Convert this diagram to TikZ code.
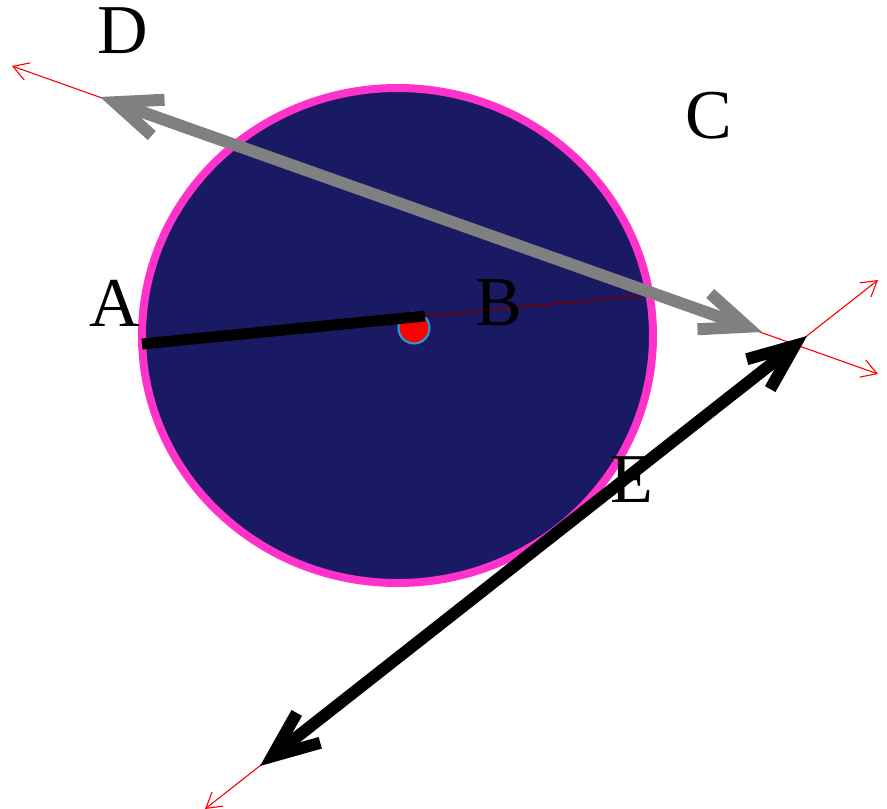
\documentclass[tikz,border=0pt]{standalone}
\usepackage{fontspec}
\setmainfont{Liberation Serif}
\newfontfamily\labelfont{Liberation Serif}
\usetikzlibrary{arrows.meta}
\definecolor{ringpink}{RGB}{255,51,204}
\definecolor{discblue}{RGB}{25,25,100}
\definecolor{dotcyan}{RGB}{30,160,230}
\definecolor{chordred}{RGB}{110,0,0}

\begin{document}
\begin{tikzpicture}[x=1pt, y=-1pt,
    guide/.style={red, line width=1.1pt,
      {Straight Barb[length=15pt,width=18pt]}-{Straight Barb[length=15pt,width=18pt]}},
    bigarrow/.style={line width=12pt,
      {Straight Barb[length=46pt,width=38pt]}-{Straight Barb[length=46pt,width=38pt]}},
    lbl/.style={inner sep=0pt, font=\labelfont\fontsize{70}{70}\selectfont}]
    \useasboundingbox (0,0) rectangle (887,809);
    % points
    \coordinate (O) at (397.5,335.5);
    \coordinate (P) at (414,328);
    \coordinate (a1) at (142,344);
    \coordinate (a2) at (425,316);
    \coordinate (a3) at (647,295);
    \coordinate (g0) at (12,66);
    \coordinate (g1) at (100,97);
    \coordinate (g2) at (762,332);
    \coordinate (g3) at (878,374);
    \coordinate (k0) at (205,809);
    \coordinate (k1) at (260,766);
    \coordinate (k2) at (807,336);
    \coordinate (k3) at (878,280);
    % the disc
    \draw[ringpink, fill=discblue, line width=8pt] (O) ellipse [x radius=255.5, y radius=247.5];
    \filldraw[fill=red, draw=dotcyan, line width=2pt] (P) circle [radius=15.5];
    % chord through the centre
    \draw[chordred, line width=1.6pt] (a2) -- (a3);
    \draw[line width=11pt] (a1) -- (a2);
    % the two long arrows, with their red guides
    \draw[guide] (g0) -- (g3);
    \draw[bigarrow, gray] (g1) -- (g2);
    \draw[guide] (k0) -- (k3);
    \draw[bigarrow, black] (k1) -- (k2);
    % labels
    \node[lbl] (A) at (115,303) {A};
    \node[lbl] (B) at (499,303) {B};
    \node[lbl] (C) at (709,116) {C};
    \node[lbl] (D) at (123,31) {D};
    \node[lbl] (E) at (632,480) {E};
\end{tikzpicture}
\end{document}
